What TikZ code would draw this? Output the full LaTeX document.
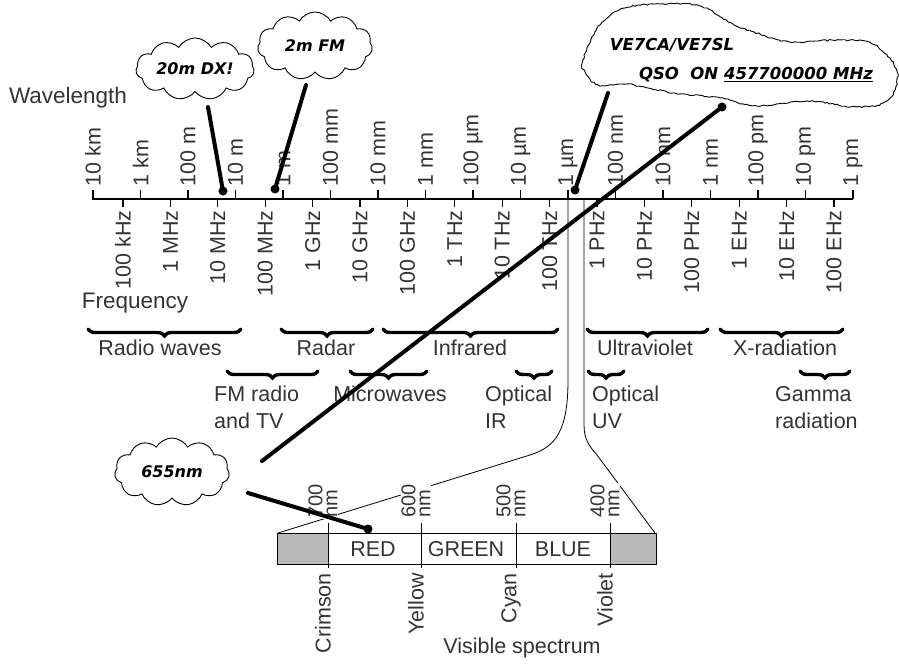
\documentclass[tikz,border=0pt]{standalone}
\usepackage{fontspec}
\setmainfont{Liberation Sans}
\newfontfamily\cloudfont{DejaVu Sans}
\usetikzlibrary{shapes.symbols,decorations.pathreplacing,decorations.pathmorphing}

\tikzset{
  lbl/.style={font=\fontsize{21.5}{27}\selectfont, text=black!80, inner sep=3pt},
  nmlbl/.style={font=\fontsize{20}{15}\selectfont, text=black!80, fill=white, inner sep=1pt, align=left, rotate=90, anchor=west},
  band/.style={decorate, decoration={brace, mirror, amplitude=7pt}, line width=3.4pt, line cap=round},
  jagged/.style={decorate, decoration={random steps, segment length=2.5pt, amplitude=0.8pt}},
  bubble/.style={cloud, draw, cloud puffs=11, cloud puff arc=120, cloud ignores aspect, line width=0.9pt,
    font=\cloudfont\bfseries\itshape\fontsize{16}{18}\selectfont},
  pointer/.style={line width=4pt, line cap=round},
}

\begin{document}
\pgfmathsetseed{11}
\begin{tikzpicture}[x=1pt, y=-1pt]
  \useasboundingbox (0,0) rectangle (899,664);

  % Axis titles
  \node[lbl, font=\fontsize{22.5}{27}\selectfont] (wavelength) at (68,98) {Wavelength};
  \node[lbl, font=\fontsize{22.5}{27}\selectfont] (frequency) at (135,303) {Frequency};

  % Scale line
  \draw[line width=1.2pt] (92,199) -- (853,199);

  % Wavelength ticks (above)
  \foreach \lab [count=\i from 0] in {10 km, 1 km, 100 m, 10 m, 1 m, 100 mm, 10 mm, 1 mm,
      100 µm, 10 µm, 1 µm, 100 nm, 10 nm, 1 nm, 100 pm, 10 pm, 1 pm}
    \draw[line width=1.2pt] (93+47.5*\i,199) -- ++(0,-9)
      node[lbl, rotate=90, anchor=west] (wl\i) {\lab};

  % Frequency ticks (below)
  \foreach \lab [count=\i from 0] in {100 kHz, 1 MHz, 10 MHz, 100 MHz, 1 GHz, 10 GHz, 100 GHz,
      1 THz, 10 THz, 100 THz, 1 PHz, 10 PHz, 100 PHz, 1 EHz, 10 EHz, 100 EHz}
    \draw[line width=1.2pt] (123+47.4*\i,199) -- ++(0,8)
      node[lbl, rotate=90, anchor=east] (fq\i) {\lab};

  % Bands, first row
  \draw[band] (88,329) -- (241,329);
  \draw[band] (281,329) -- (373,329);
  \draw[band] (383,329) -- (558,329);
  \draw[band] (587,329) -- (708,329);
  \draw[band] (720,329) -- (843,329);
  \node[lbl] (radio) at (160,348) {Radio waves};
  \node[lbl] (radar) at (326,348) {Radar};
  \node[lbl] (infrared) at (470,348) {Infrared};
  \node[lbl] (uv) at (645,348) {Ultraviolet};
  \node[lbl] (xray) at (785,348) {X-radiation};

  % Bands, second row
  \draw[band] (227,371) -- (318,371);
  \draw[band] (350,371) -- (427,371);
  \draw[band] (516,371) -- (552,371);
  \draw[band] (588,371) -- (624,371);
  \draw[band] (800,371) -- (850,371);
  \node[lbl, align=left, anchor=north west, inner sep=0pt] (fmtv) at (214,386) {FM radio\\and TV};
  \node[lbl] (micro) at (390,394) {Microwaves};
  \node[lbl, align=left, anchor=north west, inner sep=0pt] (optir) at (485,386) {Optical\\IR};
  \node[lbl, align=left, anchor=north west, inner sep=0pt] (optuv) at (592,386) {Optical\\UV};
  \node[lbl, align=left, anchor=north west, inner sep=0pt] (gamma) at (775,386) {Gamma\\radiation};

  % Visible window, zoomed out
  \draw[line width=0.8pt] (568,199) -- (568,380) .. controls (568,432) and (555,447) .. (530,455) -- (278,533);
  \draw[line width=0.8pt] (584,199) -- (584,425) .. controls (584,440) and (590,447) .. (597,455) -- (655,533);

  % Visible spectrum bar
  \filldraw[fill=gray!55, line width=0.8pt] (277,533) rectangle (328,564);
  \filldraw[fill=gray!55, line width=0.8pt] (610,533) rectangle (656,564);
  \draw[line width=0.8pt] (277,533) rectangle (656,564);
  \foreach \x in {328,421,516,610}
    \draw[line width=0.8pt] (\x,523) -- (\x,568);
  \node[lbl] (red) at (373,549) {RED};
  \node[lbl] (green) at (466,549) {GREEN};
  \node[lbl] (blue) at (563,549) {BLUE};
  \foreach \x/\w in {328/700, 421/600, 516/500, 610/400}
    \node[nmlbl] (nm\w) at (\x-5,519) {\w\\nm};
  \foreach \x/\c in {328/Crimson, 421/Yellow, 516/Cyan, 610/Violet}
    \node[lbl, rotate=90, anchor=east] (col\c) at (\x-5,570) {\c};
  \node[lbl] (visible) at (522,648) {Visible spectrum};

  % Callouts
  \node[bubble, minimum width=114pt, minimum height=62pt] (dx) at (195,69) {20m DX!};
  \node[bubble, minimum width=115pt, minimum height=68pt] (fm) at (315,46) {2m FM};
  \node[bubble, minimum width=115pt, minimum height=68pt] (red655) at (172,472) {655nm};
  \draw[jagged, line width=0.9pt] plot[smooth cycle, tension=0.6] coordinates {
    (583,60) (600,25) (625,8) (660,4) (700,6) (733,24) (760,34) (790,42) (840,40)
    (875,45) (897,72) (888,100) (857,107) (807,101) (757,106) (720,98) (673,93)
    (627,84) (600,86) (586,74)};
  \node[font=\cloudfont\bfseries\itshape\fontsize{16.5}{18}\selectfont] (ve) at (672,45) {VE7CA/VE7SL};
  \node[font=\cloudfont\bfseries\itshape\fontsize{16.5}{18}\selectfont] (qso) at (756,75)
    {QSO\ \ ON \underline{457700000 MHz}};

  % Pointers
  \coordinate (dx-tail) at (208,107);  \coordinate (dx-tip) at (223,191);
  \coordinate (fm-tail) at (306,85);   \coordinate (fm-tip) at (275,189);
  \coordinate (ve-tail) at (608,93);   \coordinate (ve-tip) at (575,190);
  \coordinate (nm-tail) at (262,461);  \coordinate (qso-tip) at (722,107);
  \coordinate (red-tail) at (248,493); \coordinate (red-tip) at (368,529);
  \draw[pointer] (dx-tail) -- (dx-tip);
  \draw[pointer] (fm-tail) -- (fm-tip);
  \draw[pointer] (ve-tail) -- (ve-tip);
  \draw[pointer] (nm-tail) -- (qso-tip);
  \draw[pointer] (red-tail) -- (red-tip);
  \foreach \p in {dx-tip, fm-tip, ve-tip, qso-tip, red-tip}
    \fill (\p) circle (4.5pt);
\end{tikzpicture}
\end{document}
